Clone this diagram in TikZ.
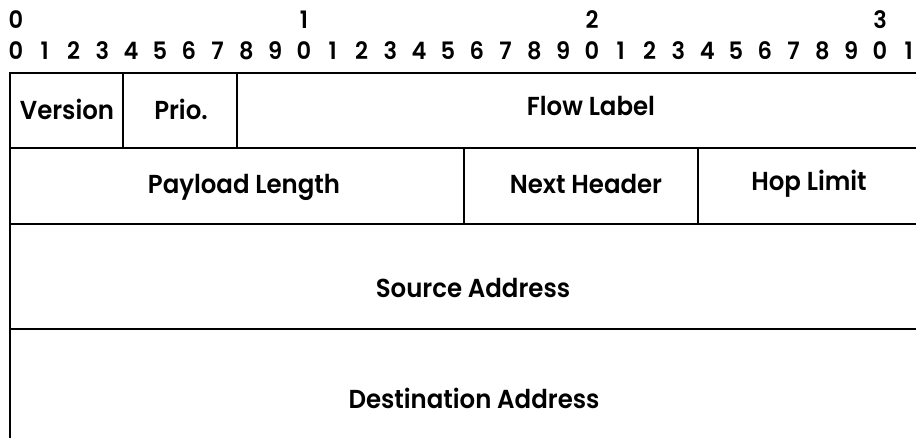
\documentclass[tikz,border=0pt]{standalone}
\usepackage{fontspec}
\setmainfont{Poppins}[BoldFont={Poppins SemiBold},BoldFeatures={FakeStretch=0.94}]
\usepackage{tikz}

\begin{document}
\begin{tikzpicture}[x=1pt, y=1pt, font=\bfseries\fontsize{24}{24}\selectfont,
  rule/.style={line width=2.4pt},
  bitnum/.style={inner sep=0pt, anchor=center},
  field/.style={inner sep=0pt, anchor=center}]
\useasboundingbox (0,0) rectangle (916,-438);
\begin{scope}
\clip (0,0) rectangle (916,-438);
% bit ruler
\foreach \t in {0,...,3}
  \node[bitnum] (ten\t) at (16+288*\t,-20) {\t};
\foreach \i in {0,...,31} {
  \pgfmathtruncatemacro\dig{mod(\i,10)}
  \node[bitnum] (bit\i) at (16+28.8*\i,-51) {\dig};
}
% header rows
\draw[rule] (10,-73) -- (930,-73);
\draw[rule] (10,-148) -- (930,-148);
\draw[rule] (10,-224) -- (930,-224);
\draw[rule] (10,-329) -- (930,-329);
\draw[rule] (10,-71.8) -- (10,-450);
\draw[rule] (123,-73) -- (123,-148);
\draw[rule] (237,-73) -- (237,-148);
\draw[rule] (464,-148) -- (464,-224);
\draw[rule] (698,-148) -- (698,-224);
\end{scope}
% field names
\begin{scope}[font=\bfseries\fontsize{26}{26}\selectfont]
\node[field] (version) at (67,-109) {Version};
\node[field] (prio) at (181,-109) {Prio.};
\node[field] (flow) at (591,-106) {Flow Label};
\node[field] (plen) at (244,-187) {Payload Length};
\node[field] (nxt) at (586,-184) {Next Header};
\node[field] (hop) at (809,-184) {Hop Limit};
\node[field] (src) at (473,-288) {Source Address};
\node[field] (dst) at (474,-398) {Destination Address};
\end{scope}
\end{tikzpicture}
\end{document}
